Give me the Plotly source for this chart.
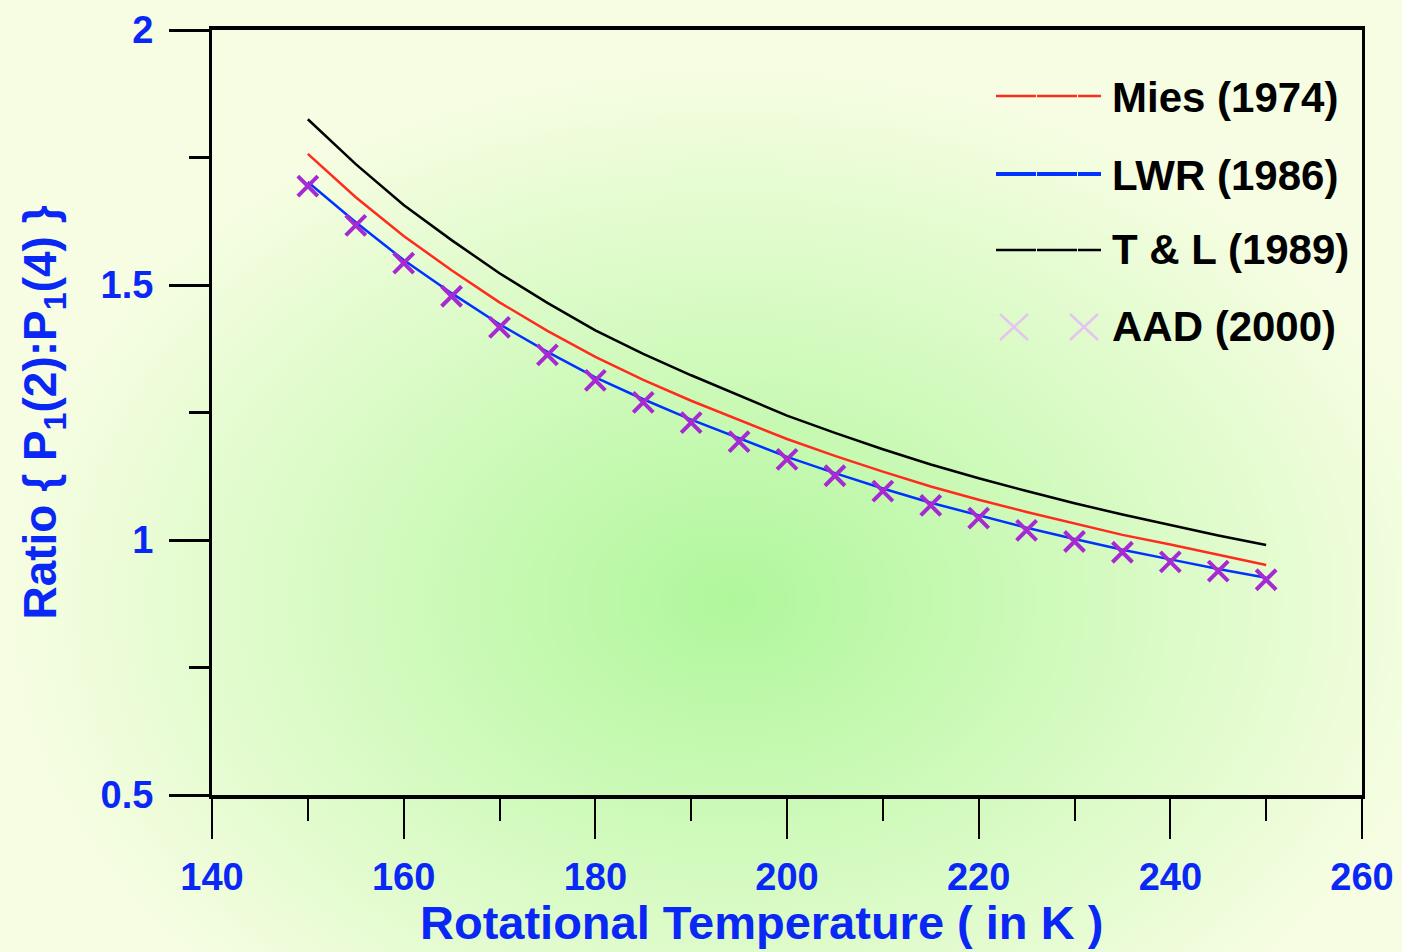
import base64
import struct
import zlib
import plotly.graph_objects as go

# ---------------- data ----------------
temperature = [150, 155, 160, 165, 170, 175, 180, 185, 190, 195, 200,
               205, 210, 215, 220, 225, 230, 235, 240, 245, 250]
mies_1974 = [1.757, 1.672, 1.596, 1.529, 1.466, 1.410, 1.359, 1.314, 1.273, 1.235, 1.198,
             1.165, 1.134, 1.105, 1.079, 1.055, 1.032, 1.010, 0.991, 0.971, 0.951]
lwr_1986 = [1.702, 1.623, 1.549, 1.484, 1.423, 1.369, 1.319, 1.276, 1.236, 1.199, 1.163,
            1.131, 1.101, 1.073, 1.048, 1.024, 1.002, 0.981, 0.962, 0.943, 0.926]
tl_1989 = [1.825, 1.737, 1.657, 1.588, 1.523, 1.465, 1.411, 1.365, 1.323, 1.283, 1.244,
           1.210, 1.178, 1.148, 1.121, 1.096, 1.072, 1.050, 1.029, 1.009, 0.990]
aad_2000 = [1.694, 1.617, 1.543, 1.478, 1.417, 1.363, 1.313, 1.270, 1.230, 1.193, 1.158,
            1.126, 1.096, 1.068, 1.043, 1.019, 0.997, 0.976, 0.957, 0.939, 0.922]

x_tick_values = [140, 160, 180, 200, 220, 240, 260]
y_tick_values = [0.5, 1, 1.5, 2]
series_names = ["Mies (1974)", "LWR (1986)", "T & L (1989)", "AAD (2000)"]
x_title = "Rotational Temperature ( in K )"
y_title = "Ratio { P<sub>1</sub>(2):P<sub>1</sub>(4) }"

# ---------------- layout geometry ----------------
FIG_W, FIG_H = 1402, 952
M_L, M_R, M_T, M_B = 212, 40, 30, 157
PW = FIG_W - M_L - M_R
PH = FIG_H - M_T - M_B

BLUE_TXT = "#0a28f5"
RED = "#ff2b1c"
BLUE = "#0033ff"
PURPLE = "#a52ad2"
FONT = "Liberation Sans, Arial, sans-serif"


def px_x(px):
    return (px - M_L) / PW


def px_y(py):
    return (FIG_H - M_B - py) / PH


# ---------------- radial gradient background (PNG data URI) ----------------
def gradient_png(w, h):
    c0 = (176, 247, 156)
    c1 = (246, 253, 226)
    cx, cy, rx, ry = 730.0, 600.0, 720.0, 530.0
    raw = bytearray()
    for j in range(h):
        raw.append(0)
        py = (j + 0.5) * FIG_H / h
        for i in range(w):
            px = (i + 0.5) * FIG_W / w
            d = (((px - cx) / rx) ** 2 + ((py - cy) / ry) ** 2) ** 0.5
            t = min(1.0, d)
            for k in range(3):
                raw.append(int(round(c0[k] + (c1[k] - c0[k]) * t)))

    def chunk(tag, data):
        c = struct.pack(">I", len(data)) + tag + data
        return c + struct.pack(">I", zlib.crc32(tag + data) & 0xFFFFFFFF)

    png = b"\x89PNG\r\n\x1a\n"
    png += chunk(b"IHDR", struct.pack(">IIBBBBB", w, h, 8, 2, 0, 0, 0))
    png += chunk(b"IDAT", zlib.compress(bytes(raw), 9))
    png += chunk(b"IEND", b"")
    return "data:image/png;base64," + base64.b64encode(png).decode()


bg = gradient_png(351, 238)

fig = go.Figure()

fig.add_trace(go.Scatter(x=temperature, y=mies_1974, mode="lines", name=series_names[0],
                         line=dict(color=RED, width=2.5)))
fig.add_trace(go.Scatter(x=temperature, y=lwr_1986, mode="lines", name=series_names[1],
                         line=dict(color=BLUE, width=2.5)))
fig.add_trace(go.Scatter(x=temperature, y=tl_1989, mode="lines", name=series_names[2],
                         line=dict(color="black", width=2.5)))
fig.add_trace(go.Scatter(x=temperature, y=aad_2000, mode="markers", name=series_names[3],
                         marker=dict(symbol="x-thin", size=20, color=PURPLE,
                                     line=dict(color=PURPLE, width=4))))

# ---------------- manual legend ----------------
shapes = []
annotations = []
legend_rows = [
    (series_names[0], 96, RED, 2.5),
    (series_names[1], 174, BLUE, 4),
    (series_names[2], 250, "black", 2.5),
]
for name, py, col, w in legend_rows:
    shapes.append(dict(type="line", xref="paper", yref="paper",
                       x0=px_x(996), x1=px_x(1101), y0=px_y(py), y1=px_y(py),
                       line=dict(color=col, width=w, dash="40px,1px")))
for cx in (1014, 1084):
    for (ax, ay, bx, by) in ((-14, -13, 14, 13), (-14, 13, 14, -13)):
        shapes.append(dict(type="line", xref="paper", yref="paper",
                           x0=px_x(cx + ax), x1=px_x(cx + bx),
                           y0=px_y(327 + ay), y1=px_y(327 + by),
                           line=dict(color="#e4c4f2", width=2.5)))

for name, py in zip(series_names, [97, 175, 250, 327]):
    annotations.append(dict(text=name, xref="paper", yref="paper",
                            x=px_x(1110), y=px_y(py), xanchor="left", yanchor="middle",
                            showarrow=False,
                            font=dict(family=FONT, size=42, color="black", weight="bold")))

# x-axis title (placed slightly left of centre as in the reference)
annotations.append(dict(text=x_title, xref="paper", yref="paper",
                        x=px_x(761), y=px_y(951), xanchor="center", yanchor="bottom",
                        showarrow=False,
                        font=dict(family=FONT, size=47, color=BLUE_TXT, weight="bold")))

fig.update_layout(
    width=FIG_W, height=FIG_H,
    margin=dict(l=M_L, r=M_R, t=M_T, b=M_B, autoexpand=False),
    paper_bgcolor="#f5fde0",
    plot_bgcolor="rgba(0,0,0,0)",
    showlegend=False,
    shapes=shapes,
    annotations=annotations,
    images=[dict(source=bg, xref="paper", yref="paper",
                 x=-M_L / PW, y=(FIG_H - M_B) / PH,
                 sizex=FIG_W / PW, sizey=FIG_H / PH,
                 xanchor="left", yanchor="top", sizing="stretch", layer="below")],
    font=dict(family=FONT, color=BLUE_TXT),
)

fig.update_xaxes(
    range=[140, 260], tickmode="array", tickvals=x_tick_values,
    showgrid=False, zeroline=False,
    showline=True, linecolor="black", linewidth=4, mirror=True,
    ticks="outside", ticklen=40, tickwidth=2, tickcolor="black",
    minor=dict(dtick=10, tick0=140, ticks="outside", ticklen=22, tickwidth=2, tickcolor="black", showgrid=False),
    tickfont=dict(family=FONT, size=38, color=BLUE_TXT, weight="bold"),
    ticklabelstandoff=5,
)
fig.update_yaxes(
    range=[0.5, 2], tickmode="array", tickvals=y_tick_values,
    showgrid=False, zeroline=False,
    showline=True, linecolor="black", linewidth=3, mirror=True,
    ticks="outside", ticklen=40, tickwidth=3, tickcolor="black",
    minor=dict(dtick=0.25, tick0=0.5, ticks="outside", ticklen=20, tickwidth=3, tickcolor="black", showgrid=False),
    tickfont=dict(family=FONT, size=38, color=BLUE_TXT, weight="bold"),
    ticklabelstandoff=8,
    title=dict(text=y_title, standoff=30,
               font=dict(family=FONT, size=46, color=BLUE_TXT, weight="bold")),
)

fig.write_html("out.html", config={"displayModeBar": False},
               post_script="document.body.style.margin='0';document.body.style.overflow='hidden';")
